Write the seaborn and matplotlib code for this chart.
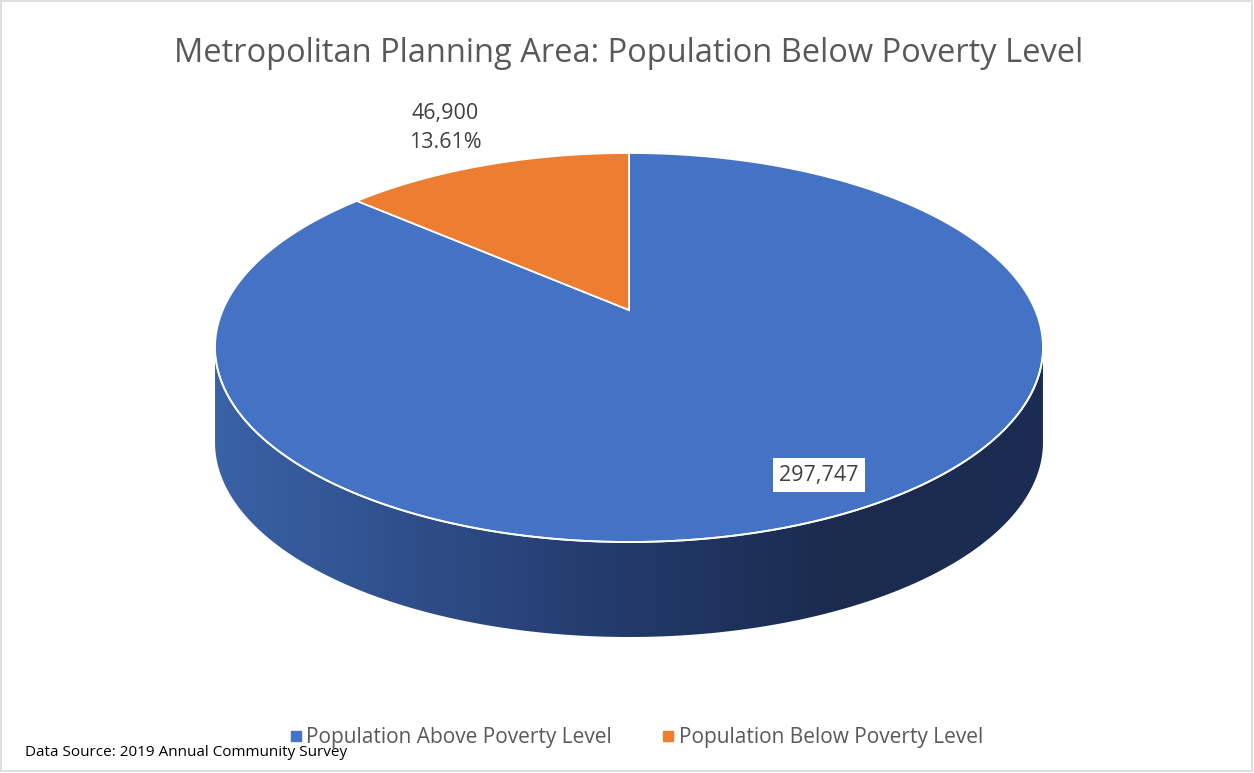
import numpy as np
import matplotlib
matplotlib.use("Agg")
import matplotlib.pyplot as plt
from matplotlib.patches import Polygon, Rectangle
from matplotlib.colors import LinearSegmentedColormap
from matplotlib.lines import Line2D
import seaborn as sns

# data
labels = ["Population Above Poverty Level", "Population Below Poverty Level"]
values = [297747, 46900]
title = "Metropolitan Planning Area: Population Below Poverty Level"
source = "Data Source: 2019 Annual Community Survey"

sns.set_theme(style="white")
plt.rcParams['font.family'] = ['Open Sans', 'DejaVu Sans']
colors = ["#4472c4", "#ed7d31"]

W, H = 1254, 773
fig = plt.figure(figsize=(W / 100, H / 100), dpi=100)
ax = fig.add_axes([0, 0, 1, 1])
ax.set_xlim(0, W)
ax.set_ylim(H, 0)
ax.axis("off")

# tilted disc seen in perspective (pixel space)
cx, apex_y = 629, 310
k, q, A = 0.1928, -127.5, 406.2
depth = 95


def disc(theta, dy=0):
    t = np.radians(theta)
    u, v = np.cos(t), np.sin(t)
    return cx + A * u / (1 + k * v), (apex_y + q * v) / (1 + k * v) + dy


# side of the pie (front half)
phi0 = np.degrees(np.arcsin(k))
t_front = np.linspace(180 + phi0, 360 - phi0, 300)
xt, yt = disc(t_front)
xb, yb = disc(t_front[::-1], depth)
side = Polygon(np.column_stack([np.r_[xt, xb], np.r_[yt, yb]]), closed=True,
               facecolor="none", edgecolor="none")
ax.add_patch(side)
cmap = LinearSegmentedColormap.from_list(
    "side", ["#3a62a7", "#2e4d88", "#22396a", "#1a2b4e", "#1b2d52"])
grad = np.linspace(0, 1, 256).reshape(1, -1)
img = ax.imshow(grad, cmap=cmap, aspect="auto",
                extent=[xt.min(), xt.max(), yb.max(), yt.min()], zorder=1)
img.set_clip_path(side)

# top slices; orange runs counter-clockwise from 12 o'clock
total = sum(values)
frac = [v / total for v in values]
start = 90
bounds = [(start + 360 * frac[1], start + 360), (start, start + 360 * frac[1])]
for (t0, t1), c in zip(bounds, colors):
    ts = np.linspace(t0, t1, 400)
    x, y = disc(ts)
    poly = Polygon(np.column_stack([np.r_[cx, x], np.r_[apex_y, y]]), closed=True,
                   facecolor=c, edgecolor="white", linewidth=1.3, zorder=2)
    ax.add_patch(poly)

# white rim on the front edge
xr, yr = disc(np.linspace(180 + phi0 + 3, 360 - phi0 - 3, 300))
ax.plot(xr, yr, color="white", lw=1.3, zorder=3)

# data labels
ax.text(445, 128, f"{values[1]:,}\n{frac[1] * 100:.2f}%", ha="center", va="center",
        fontsize=15.5, color="#404040", linespacing=1.5, zorder=4)
ax.text(819, 475, f"{values[0]:,}", ha="center", va="center", fontsize=15.5,
        color="#404040", zorder=4,
        bbox=dict(boxstyle="square,pad=0.3", facecolor="white", edgecolor="none"))

# title
ax.text(629, 53, title, ha="center", va="center", fontsize=23.5, color="#595959")

# legend
handles = [Line2D([], [], marker="s", linestyle="none", markersize=6.5,
                  markerfacecolor=c, markeredgecolor=c) for c in colors]
fig.legend(handles, labels, loc="center", bbox_to_anchor=(634 / W, 1 - 738 / H),
           ncol=2, frameon=False, fontsize=15, labelcolor="#595959",
           handletextpad=0.0, columnspacing=2.2, handlelength=1.0)

ax.text(25, 753, source, ha="left", va="center", fontsize=11, color="black")

ax.add_patch(Rectangle((1, 1), W - 3, H - 3, fill=False, edgecolor="#d9d9d9", lw=1.2))

fig.savefig("out.png", dpi=100)
